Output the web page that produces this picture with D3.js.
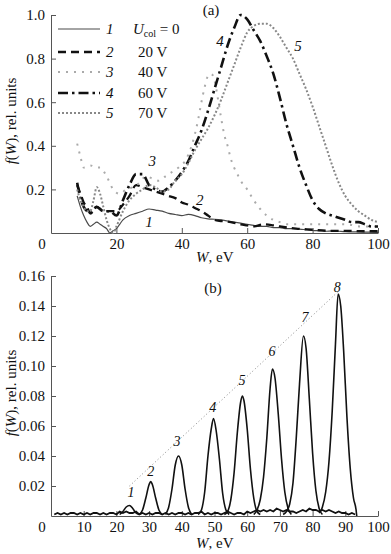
<!DOCTYPE html>
<html>
<head>
<meta charset="utf-8">
<script src="https://cdn.jsdelivr.net/npm/d3@7"></script>
<style>
    body { margin: 0; background: #fff; }
    .axis path, .axis line { stroke: #555; }
</style>
</head>
<body>
<div id="chart"></div>
<script>

// ---- panel (a): f(W) for different collector voltages ----
const legendNums = ["1", "2", "3", "4", "5"];
const legendVolts = ["0", "20 V", "40 V", "60 V", "70 V"];

const wA1 = [8,9,10,11,12,13,14,15,16,17,18,19,20,21,22,24,26,28,30,32,34,36,38,40,42,44,46,48,50,52,54,56,58,60,62,64,66,68,70,72,74,76,78,80,82,84,86,88,90,92,94,96,98,100];
const fA1 = [0.17,0.12,0.08,0.05,0.03,0.04,0.05,0.04,0.03,0.02,0.0,0.01,0.02,0.04,0.06,0.08,0.09,0.10,0.11,0.105,0.10,0.09,0.085,0.08,0.085,0.08,0.07,0.065,0.063,0.06,0.055,0.05,0.045,0.04,0.035,0.03,0.03,0.025,0.025,0.02,0.02,0.018,0.015,0.012,0.01,0.008,0.01,0.008,0.006,0.005,0.005,0.004,0.004,0.003];

const wA2 = [8,9,10,11,12,13,14,15,16,18,20,22,24,26,28,30,32,34,36,38,40,42,44,46,48,50,52,55,58,60,62,65,68,70,75,80,85,90,95,100];
const fA2 = [0.22,0.18,0.14,0.12,0.09,0.11,0.12,0.11,0.10,0.10,0.10,0.13,0.17,0.22,0.21,0.20,0.19,0.18,0.17,0.16,0.14,0.13,0.115,0.10,0.08,0.06,0.055,0.05,0.04,0.035,0.03,0.04,0.035,0.03,0.02,0.015,0.01,0.01,0.008,0.008];

const wA3 = [8,9,10,12,14,15,17,19,21,23,25,27,29,31,33,35,37,39,41,43,45,46,47,48,49,50,51,52,53,54,55,56,57,58,60,62,64,66,68,70,72,75,80,85,90,95,100];
const fA3 = [0.41,0.35,0.30,0.31,0.30,0.30,0.26,0.20,0.18,0.20,0.21,0.23,0.26,0.25,0.24,0.26,0.28,0.30,0.33,0.40,0.52,0.60,0.67,0.72,0.73,0.70,0.62,0.53,0.45,0.40,0.34,0.30,0.27,0.24,0.20,0.15,0.11,0.08,0.06,0.05,0.04,0.04,0.04,0.04,0.04,0.03,0.03];

const wA4 = [8,9,10,11,12,14,16,18,20,22,24,26,28,30,32,34,36,38,40,42,44,46,48,50,52,54,56,58,60,62,64,66,68,70,72,74,76,78,80,82,84,86,88,90,92,94,96,98,100];
const fA4 = [0.23,0.16,0.12,0.10,0.09,0.12,0.10,0.10,0.08,0.15,0.22,0.27,0.27,0.22,0.20,0.19,0.21,0.24,0.28,0.33,0.40,0.47,0.56,0.66,0.76,0.86,0.94,1.00,0.98,0.93,0.88,0.81,0.73,0.62,0.50,0.40,0.30,0.22,0.15,0.11,0.09,0.08,0.07,0.06,0.05,0.05,0.04,0.03,0.03];

const wA5 = [8,9,10,11,12,13,14,15,16,17,18,19,20,22,24,26,28,30,32,34,36,38,40,42,44,46,48,50,52,54,56,58,60,62,64,66,68,70,72,74,76,78,80,82,84,86,88,90,92,94,96,98,100];
const fA5 = [0.20,0.15,0.12,0.10,0.10,0.15,0.21,0.18,0.12,0.06,0.02,0.0,0.03,0.10,0.15,0.18,0.20,0.22,0.21,0.19,0.20,0.24,0.27,0.32,0.38,0.43,0.48,0.54,0.61,0.69,0.77,0.85,0.92,0.95,0.96,0.96,0.94,0.90,0.85,0.80,0.73,0.66,0.58,0.49,0.40,0.31,0.23,0.17,0.13,0.10,0.08,0.06,0.05];

// curve number labels in panel (a): [W, f]
const labelA = [[30, 0.05], [45.5, 0.15], [31, 0.33], [51.7, 0.88], [75.5, 0.86]];

// ---- panel (b): separated peaks ----
const peakW = [
    [21,22,23,24,25,26,27],
    [27,28,29,30,30.5,31,32,33,34],
    [35,36,37,38,39,40,41,42,43],
    [45,46,47,48,49,49.7,50.5,51.5,52.5,53.5,54.5],
    [53,54,55,56,57,58,58.5,59,60,61,62,63,64],
    [62,63,64,65,66,67,67.7,68.5,69.5,70.5,71.5,72.5,73.5],
    [71,72,73,74,75,76,77.2,78,79,80,81,82,83],
    [82,83,84,85,86,87,87.8,88.6,89.5,90.5,91.5,92.5,93.3,93.5]
];
const peakF = [
    [0.001,0.003,0.006,0.007,0.005,0.002,0.001],
    [0.001,0.004,0.012,0.021,0.023,0.021,0.012,0.004,0.001],
    [0.001,0.006,0.018,0.034,0.040,0.034,0.018,0.006,0.001],
    [0.001,0.004,0.016,0.040,0.058,0.065,0.057,0.038,0.015,0.004,0.001],
    [0.001,0.003,0.011,0.029,0.056,0.076,0.080,0.077,0.058,0.031,0.012,0.003,0.001],
    [0.001,0.004,0.011,0.026,0.052,0.085,0.098,0.092,0.068,0.038,0.016,0.005,0.001],
    [0.001,0.003,0.008,0.022,0.052,0.088,0.120,0.112,0.078,0.042,0.017,0.005,0.001],
    [0.002,0.006,0.016,0.036,0.070,0.115,0.148,0.140,0.110,0.066,0.032,0.012,0.004,0.0]
];
const peakLabels = ["1", "2", "3", "4", "5", "6", "7", "8"];
const peakLabelW = [24.5, 30.5, 38.5, 49.5, 58.4, 67.6, 77.7, 87.5];
const peakLabelF = [0.016, 0.030, 0.050, 0.073, 0.091, 0.110, 0.133, 0.153];

// noisy baseline, W = 1..93
const baseF = [0.001,0.002,0.001,0.002,0.001,0.002,0.002,0.001,0.002,0.001,
    0.002,0.001,0.002,0.002,0.001,0.002,0.001,0.002,0.002,0.001,
    0.003,0.002,0.003,0.002,0.002,0.003,0.001,0.002,0.001,0.002,
    0.001,0.002,0.002,0.001,0.002,0.001,0.002,0.001,0.002,0.002,
    0.001,0.002,0.001,0.002,0.002,0.003,0.001,0.002,0.001,0.002,
    0.002,0.001,0.002,0.003,0.002,0.001,0.002,0.002,0.001,0.003,
    0.002,0.003,0.004,0.003,0.004,0.003,0.004,0.003,0.005,0.004,
    0.003,0.004,0.003,0.003,0.002,0.003,0.004,0.003,0.005,0.004,
    0.004,0.003,0.004,0.003,0.004,0.003,0.002,0.003,0.002,0.002,
    0.001,0.002,0.001];

// dotted envelope through the peak tops
const envW = [24, 88];
const envF = [0.020, 0.150];

const xTicks = [20, 40, 60, 80, 100];
const yTicksA = [0.2, 0.4, 0.6, 0.8, 1.0];
const xTicksB = [10, 20, 30, 40, 50, 60, 70, 80, 90, 100];
const yTicksB = [0.02, 0.04, 0.06, 0.08, 0.10, 0.12, 0.14, 0.16];

const SERIF = "Liberation Serif";

class EnergyChart {

    constructor(parentElement) {
        this.parentElement = parentElement;
        this.initVis();
    }

    initVis() {
        let vis = this;
        vis.width = 391;
        vis.height = 554;

        vis.svg = d3.select("#" + vis.parentElement).append("svg")
            .attr("width", vis.width)
            .attr("height", vis.height)
            .attr("font-family", SERIF);

        vis.svg.append("rect").attr("width", vis.width).attr("height", vis.height).attr("fill", "#fff");

        // scales
        vis.xA = d3.scaleLinear().domain([0, 100]).range([51, 378]);
        vis.yA = d3.scaleLinear().domain([0, 1]).range([233, 15]);
        vis.xB = d3.scaleLinear().domain([0, 100]).range([51, 378]);
        vis.yB = d3.scaleLinear().domain([0, 0.16]).range([516, 276]);

        vis.drawAxes(vis.xA, vis.yA, xTicks, yTicksA, d3.format(".1f"), 233, 262, "(a)", 211, 15);
        vis.drawAxes(vis.xB, vis.yB, xTicksB, yTicksB, d3.format(".2f"), 516, 548, "(b)", 213, 293);

        vis.drawPanelA();
        vis.drawPanelB();

        // every text in the serif face, dark fill
        vis.svg.selectAll("text")
            .attr("font-family", SERIF)
            .attr("fill", "#111");
    }

    drawAxes(x, y, xt, yt, yFmt, y0, titleY, tag, tagX, tagY) {
        let vis = this;

        vis.svg.append("g")
            .attr("class", "axis")
            .attr("transform", `translate(0,${y0})`)
            .call(d3.axisBottom(x).tickValues(xt).tickSizeInner(-5).tickSizeOuter(0).tickPadding(5))
            .attr("font-family", SERIF)
            .attr("font-size", 15);

        vis.svg.append("g")
            .attr("class", "axis")
            .attr("transform", `translate(${x(0)},0)`)
            .call(d3.axisLeft(y).tickValues(yt).tickFormat(yFmt).tickSizeInner(-5).tickSizeOuter(0).tickPadding(6))
            .attr("font-family", SERIF)
            .attr("font-size", 15);

        // origin "0"
        vis.svg.append("text")
            .attr("x", x(0) - 9).attr("y", y0 + 16)
            .attr("text-anchor", "middle")
            .attr("font-size", 15)
            .text("0");

        // x title
        let xt2 = vis.svg.append("text")
            .attr("x", 196).attr("y", titleY)
            .attr("font-size", 15);
        xt2.append("tspan").attr("font-style", "italic").text("W");
        xt2.append("tspan").text(", eV");

        // y title
        let yc = (y.range()[0] + y.range()[1]) / 2 - 3;
        let yt2 = vis.svg.append("text")
            .attr("transform", `translate(16,${yc}) rotate(-90)`)
            .attr("text-anchor", "middle")
            .attr("font-size", 15);
        yt2.append("tspan").attr("font-style", "italic").text("f");
        yt2.append("tspan").text("(");
        yt2.append("tspan").attr("font-style", "italic").text("W");
        yt2.append("tspan").text("), rel. units");

        vis.svg.append("text")
            .attr("x", tagX).attr("y", tagY)
            .attr("text-anchor", "middle")
            .attr("font-size", 15)
            .text(tag);
    }

    drawPanelA() {
        let vis = this;

        let series = [
            {w: wA1, f: fA1, color: "#4a4a4a", width: 1.2, dash: null},
            {w: wA2, f: fA2, color: "#111", width: 2.3, dash: "8,5"},
            {w: wA3, f: fA3, color: "#aaa", width: 2, dash: "2,6"},
            {w: wA4, f: fA4, color: "#111", width: 2.6, dash: "10,4,2.5,4"},
            {w: wA5, f: fA5, color: "#888", width: 2, dash: "2,2"}
        ];

        let line = d3.line()
            .x(d => vis.xA(d[0]))
            .y(d => vis.yA(d[1]))
            .curve(d3.curveMonotoneX);

        vis.svg.selectAll(".curveA")
            .data(series)
            .join("path")
            .attr("class", "curveA")
            .attr("fill", "none")
            .attr("stroke", d => d.color)
            .attr("stroke-width", d => d.width)
            .attr("stroke-dasharray", d => d.dash)
            .attr("d", d => line(d.w.map((w, i) => [w, d.f[i]])));

        // legend
        let rowY = [29, 52, 72, 93, 113];
        let leg = vis.svg.selectAll(".legRow")
            .data(series)
            .join("g")
            .attr("class", "legRow")
            .attr("transform", (d, i) => `translate(0,${rowY[i]})`);

        leg.append("line")
            .attr("x1", 58).attr("x2", 100)
            .attr("stroke", d => d.color)
            .attr("stroke-width", d => d.width)
            .attr("stroke-dasharray", d => d.dash);

        leg.append("text")
            .attr("x", 106).attr("y", 5)
            .attr("font-size", 15)
            .attr("font-style", "italic")
            .text((d, i) => legendNums[i]);

        leg.each(function(d, i) {
            let t = d3.select(this).append("text")
                .attr("y", 5)
                .attr("font-size", 15);
            if (i === 0) {
                t.attr("x", 133);
                t.append("tspan").attr("font-style", "italic").text("U");
                t.append("tspan").attr("font-size", 10).attr("dy", 3).text("col");
                t.append("tspan").attr("dy", -3).text(" = " + legendVolts[i]);
            } else {
                t.attr("x", 138).text(legendVolts[i]);
            }
        });

        // numbers next to the curves
        vis.svg.selectAll(".labA")
            .data(labelA)
            .join("text")
            .attr("class", "labA")
            .attr("x", d => vis.xA(d[0]))
            .attr("y", d => vis.yA(d[1]) + 5)
            .attr("text-anchor", "middle")
            .attr("font-size", 15)
            .attr("font-style", "italic")
            .text((d, i) => legendNums[i]);
    }

    drawPanelB() {
        let vis = this;

        let line = d3.line()
            .x(d => vis.xB(d[0]))
            .y(d => vis.yB(d[1]));

        // envelope
        vis.svg.append("path")
            .attr("fill", "none")
            .attr("stroke", "#888")
            .attr("stroke-width", 1)
            .attr("stroke-dasharray", "1,2.5")
            .attr("d", line(envW.map((w, i) => [w, envF[i]])));

        // noisy baseline
        vis.svg.append("path")
            .attr("fill", "none")
            .attr("stroke", "#111")
            .attr("stroke-width", 1.8)
            .attr("d", line(baseF.map((f, i) => [i + 1, f])));

        // peaks
        let smooth = d3.line()
            .x(d => vis.xB(d[0]))
            .y(d => vis.yB(d[1]))
            .curve(d3.curveMonotoneX);

        vis.svg.selectAll(".peak")
            .data(peakW)
            .join("path")
            .attr("class", "peak")
            .attr("fill", "none")
            .attr("stroke", "#111")
            .attr("stroke-width", 1.6)
            .attr("d", (d, k) => smooth(d.map((w, i) => [w, peakF[k][i]])));

        vis.svg.selectAll(".labB")
            .data(peakLabels)
            .join("text")
            .attr("class", "labB")
            .attr("x", (d, i) => vis.xB(peakLabelW[i]))
            .attr("y", (d, i) => vis.yB(peakLabelF[i]) + 5)
            .attr("text-anchor", "middle")
            .attr("font-size", 14)
            .attr("font-style", "italic")
            .text(d => d);
    }
}

new EnergyChart("chart");
</script>
</body>
</html>
